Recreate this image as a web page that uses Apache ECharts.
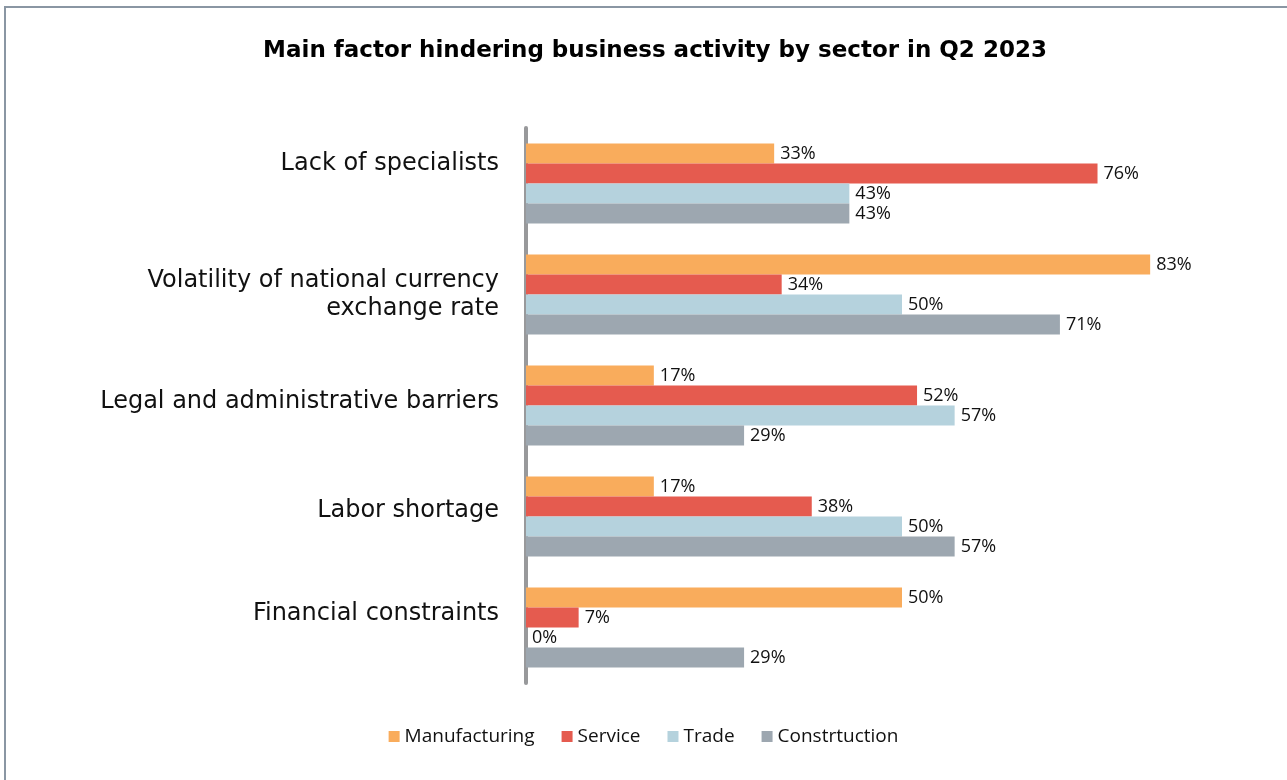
<!DOCTYPE html>
<html>
<head>
<meta charset="utf-8">
<script src="https://cdn.jsdelivr.net/npm/echarts@6/dist/echarts.min.js"></script>
<style>
  html, body { margin: 0; padding: 0; background: #fff; }
  #chart { width: 1287px; height: 780px; }
</style>
</head>
<body>
<div id="chart"></div>
<script>
// categories, top to bottom
const factors = [
  'Lack of specialists',
  'Volatility of national currency\nexchange rate',
  'Legal and administrative barriers',
  'Labor shortage',
  'Financial constraints'
]
const sectors = ['Manufacturing', 'Service', 'Trade', 'Constrtuction']
const manufacturing = [33, 83, 17, 17, 50]
const service = [76, 34, 52, 38, 7]
const trade = [43, 50, 57, 50, 0]
const construction = [43, 71, 29, 57, 29]
const colors = ['#F9AC5C', '#E55B4F', '#B5D2DD', '#9DA7B0']

const chart = echarts.init(document.getElementById('chart'))

// the original labels sit a little above the middle of their group
const labelRich = {
  l0: { padding: [0, 0, 40, 0] },
  l1: { padding: [0, 0, 0, 0] },
  l2: { padding: [0, 0, 8, 0] },
  l3: { padding: [0, 0, 12, 0] },
  l4: { padding: [0, 0, 28, 0] }
}

function makeSeries(name, data, i) {
  return {
    name: name,
    type: 'bar',
    data: data,
    barGap: '0%',
    barCategoryGap: '28%',
    itemStyle: { color: colors[i] },
    label: {
      show: true,
      position: 'right',
      distance: 6,
      formatter: '{c}%',
      color: '#111',
      fontFamily: 'Open Sans',
      fontSize: 18
    }
  }
}

chart.setOption({
  animation: false,
  title: {
    text: 'Main factor hindering business activity by sector in Q2 2023',
    left: 650,
    textAlign: 'center',
    top: 35,
    textStyle: {
      fontFamily: 'DejaVu Sans',
      fontWeight: 'bold',
      fontSize: 23,
      color: '#000'
    }
  },
  graphic: [
    {
      type: 'rect',
      shape: { x: 5, y: 7, width: 1300, height: 800 },
      style: { fill: 'none', stroke: '#8a96a3', lineWidth: 2 },
      silent: true
    }
  ],
  legend: {
    data: sectors,
    bottom: 29,
    left: 'center',
    itemWidth: 11,
    itemHeight: 11,
    itemGap: 27,
    icon: 'rect',
    textStyle: {
      fontFamily: 'Open Sans',
      fontSize: 19,
      color: '#111'
    }
  },
  grid: {
    left: 526,
    right: 9,
    top: 128,
    bottom: 97,
    containLabel: false
  },
  xAxis: {
    type: 'value',
    min: 0,
    max: 100,
    show: false
  },
  yAxis: {
    type: 'category',
    data: factors,
    inverse: true,
    axisLine: { show: true, lineStyle: { color: '#98999b', width: 4 } },
    axisTick: { show: false },
    axisLabel: {
      margin: 27,
      color: '#111',
      fontFamily: 'DejaVu Sans',
      fontSize: 24,
      lineHeight: 28,
      formatter: function (value, index) {
        return value.split('\n').map(function (line) {
          return '{l' + index + '|' + line + '}'
        }).join('\n')
      },
      rich: labelRich
    }
  },
  series: [
    makeSeries(sectors[0], manufacturing, 0),
    makeSeries(sectors[1], service, 1),
    makeSeries(sectors[2], trade, 2),
    makeSeries(sectors[3], construction, 3)
  ]
})
</script>
</body>
</html>
